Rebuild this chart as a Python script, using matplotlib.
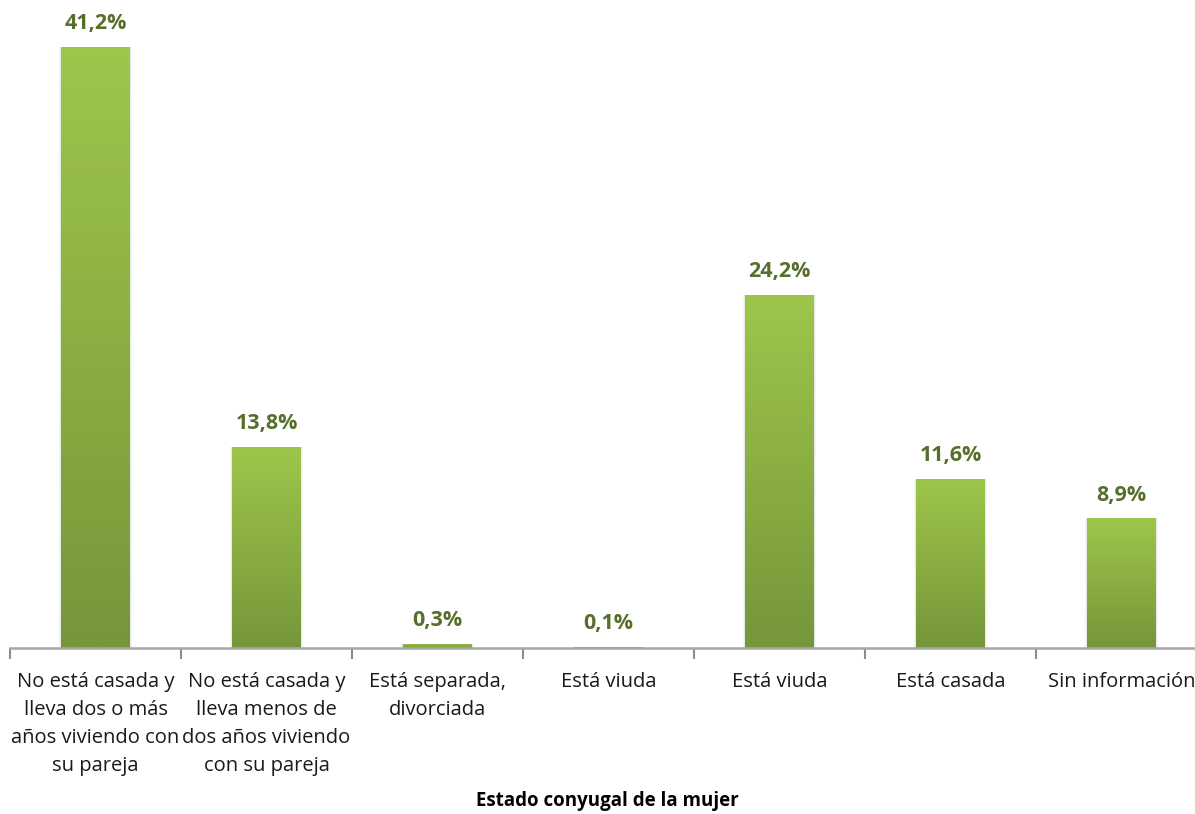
import numpy as np
import matplotlib.pyplot as plt
from matplotlib.colors import LinearSegmentedColormap

categories = [
    "No está casada y\nlleva dos o más\naños viviendo con\nsu pareja",
    "No está casada y\nlleva menos de\ndos años viviendo\ncon su pareja",
    "Está separada,\ndivorciada",
    "Está viuda",
    "Está viuda",
    "Está casada",
    "Sin información",
]
values = [41.2, 13.8, 0.3, 0.1, 24.2, 11.6, 8.9]
value_labels = ["41,2%", "13,8%", "0,3%", "0,1%", "24,2%", "11,6%", "8,9%"]

plt.rcParams["font.family"] = ["Open Sans", "DejaVu Sans"]

fig = plt.figure(figsize=(11.95, 8.14), dpi=100)
ax = fig.add_axes([10 / 1195, 166 / 814, 1197 / 1195, 648 / 814])

x = np.arange(len(values))
bars = ax.bar(x, values, width=0.40, color="#8db543", zorder=2)

cmap = LinearSegmentedColormap.from_list("g", ["#76963a", "#9ec64b"])
grad = np.linspace(0, 1, 256).reshape(-1, 1)
for b, v, lab in zip(bars, values, value_labels):
    # soft side shadow
    for k, a in [(0.03, 0.035), (0.015, 0.05)]:
        ax.bar(b.get_x() + b.get_width() / 2, v, width=b.get_width() + k,
               color="#000000", alpha=a, zorder=1, linewidth=0)
    im = ax.imshow(grad, cmap=cmap, aspect="auto", origin="lower",
                   extent=(b.get_x(), b.get_x() + b.get_width(), 0, v), zorder=3)
    im.set_clip_path(b)
    ax.text(b.get_x() + b.get_width() / 2, v + 0.85, lab,
            ha="center", va="bottom", fontsize=15.5, fontweight="bold", color="#56702b")

ax.set_xlim(-0.5, len(values) - 0.5)
ax.set_ylim(0, 44.4)
ax.set_xticks(x)
ax.set_xticklabels(categories, fontsize=14.5, color="#1a1a1a", linespacing=1.55)
ax.set_xticks(np.arange(-0.5, len(values)), minor=True)
ax.tick_params(axis="x", which="major", length=0, pad=17)
ax.tick_params(axis="x", which="minor", length=8, width=1.5, color="#8c8c8c", direction="out")
ax.set_yticks([])
for s in ["left", "right", "top"]:
    ax.spines[s].set_visible(False)
ax.spines["bottom"].set_color("#a6a6a6")
ax.spines["bottom"].set_linewidth(1.8)
ax.spines["bottom"].set_zorder(4)

fig.text(607 / 1195, 1 - 801 / 814, "Estado conyugal de la mujer", ha="center", va="center",
         fontsize=13.5, fontweight="bold", color="#000000")

fig.savefig("out.png", dpi=100)
